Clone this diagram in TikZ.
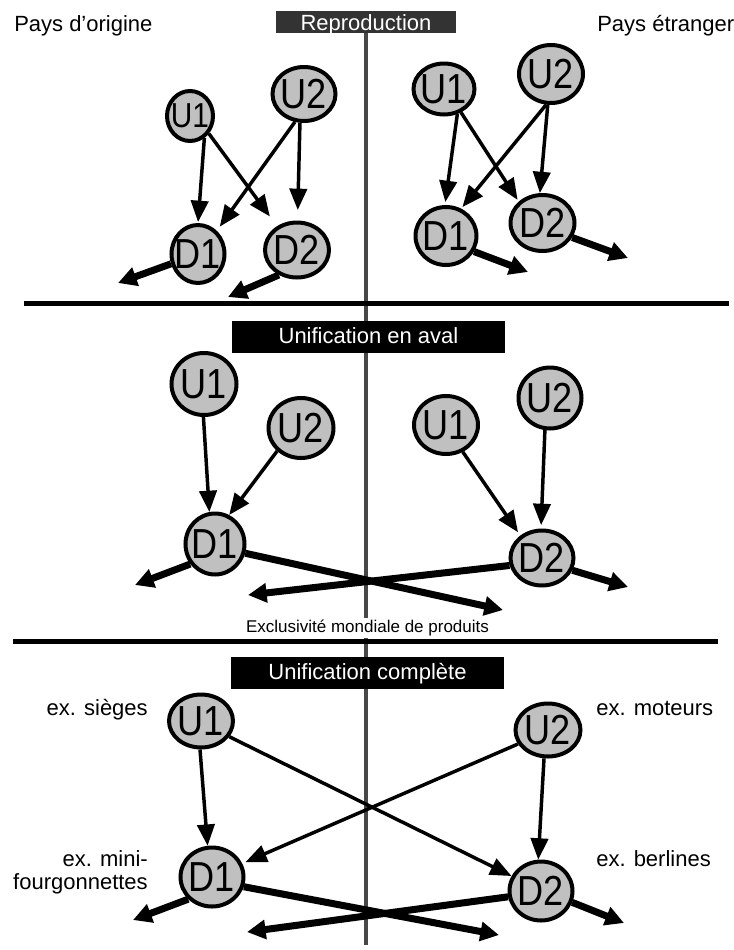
\documentclass[tikz,border=0pt]{standalone}
\usepackage{fontspec}
\setmainfont{Liberation Sans}
\newfontfamily\entfam[FakeStretch=0.86]{Liberation Sans}
\usetikzlibrary{arrows.meta,shapes.geometric}
\definecolor{nodegray}{RGB}{192,192,192}
\definecolor{vlinecol}{RGB}{72,72,72}
\definecolor{boxdark}{RGB}{51,51,51}
\newcommand\entfont{\entfam\fontsize{31.5}{31.5}\selectfont}
\newcommand\smallentfont{\entfam\fontsize{26}{26}\selectfont}
\newcommand\lblfont{\fontsize{16.5}{17.25}\selectfont}
\newcommand\lab[1]{\makebox[0pt]{#1}}
\begin{document}
\begin{tikzpicture}[x=0.75pt,y=-0.75pt,
  ent/.style={ellipse, draw=black, line width=3pt, fill=nodegray, inner sep=0pt, font=\entfont},
  conn/.style={line width=2.6pt, -{Triangle[length=16pt,width=13pt]}},
  flow/.style={line width=5.25pt, -{Triangle[length=14pt,width=14pt]}},
  txt/.style={font=\lblfont, inner sep=0pt},
  titlebox/.style={text=white, font=\lblfont, inner sep=0pt, text height=12pt, text depth=3pt},
]
\useasboundingbox (0,0) rectangle (733,950);

% vertical divider and separators
\draw[vlinecol, line width=3pt] (366,33) -- (366,945);
\draw[black, line width=3.75pt] (24,303) -- (729,303);
\draw[black, line width=3.5pt] (13,641.5) -- (718,641.5);

% titles and labels
\node[titlebox, fill=boxdark, minimum width=135pt, minimum height=16.5pt, text height=13pt, text depth=0pt] (t1) at (366,22) {Reproduction};
\node[titlebox, fill=black, minimum width=204.75pt, minimum height=24pt] (t2) at (368.5,337) {Unification en aval};
\node[titlebox, fill=black, minimum width=204.75pt, minimum height=24pt] (t3) at (367.5,673) {Unification complète};
\node[txt, anchor=base west] (paysO) at (14,31) {Pays d’origine};
\node[txt, anchor=base west] (paysE) at (597,31) {Pays étranger};
\node[font=\fontsize{12.75}{14}\selectfont, fill=white, inner sep=1.5pt, anchor=base] (excl) at (367.5,632.7) {Exclusivité mondiale de produits};
\node[txt, anchor=base east] (exs) at (148,715) {ex. sièges};
\node[txt, anchor=east, align=right] (exm) at (148,872) {ex. mini-\\fourgonnettes};
\node[txt, anchor=base west] (exmo) at (596,715) {ex. moteurs};
\node[txt, anchor=base west] (exb) at (596,866.5) {ex. berlines};

% ---- top section
\node[ent, minimum width=34.5pt, minimum height=37.5pt, font=\smallentfont] (tlU1) at (190,116) {\lab{U1}};
\node[ent, minimum width=47.25pt, minimum height=40.5pt] (tlU2) at (304,94) {\lab{U2}};
\node[ent, minimum width=39.75pt, minimum height=43.5pt] (tlD1) at (198,254) {\lab{D1}};
\node[ent, minimum width=48pt, minimum height=41.25pt] (tlD2) at (297,250) {\lab{D2}};
\node[ent, minimum width=45.75pt, minimum height=38.25pt] (trU1) at (444,89) {\lab{U1}};
\node[ent, minimum width=48pt, minimum height=43.5pt] (trU2) at (551,74) {\lab{U2}};
\node[ent, minimum width=45.75pt, minimum height=43.5pt] (trD1) at (446,236) {\lab{D1}};
\node[ent, minimum width=48pt, minimum height=42pt] (trD2) at (542.5,223) {\lab{D2}};
\coordinate (tlo1) at (118,283);
\coordinate (tlo2) at (228,297);
\coordinate (tro1) at (528,272);
\coordinate (tro2) at (628,258);

\draw[conn, shorten >=0.75pt] (tlU1.-57) -- (tlD1.90);
\draw[conn, shorten >=9pt] (tlU1.-43) -- (tlD2.130);
\draw[conn, shorten >=3.75pt] (tlU2.-108) -- (tlD1.51);
\draw[conn, shorten >=7.9pt] (tlU2.-98) -- (tlD2.89);
\draw[flow] (tlD1.200) -- (tlo1);
\draw[flow] (tlD2.-126) -- (tlo2);

\draw[conn, shorten >=2.25pt] (trU1.-62) -- (trD1.92);
\draw[conn, shorten >=1.5pt] (trU1.-54) -- (trD2.138);
\draw[conn, shorten >=1.5pt] (trU2.-99) -- (trD1.61);
\draw[conn] (trU2.-96) -- (trD2.95);
\draw[flow] (trD1.-29) -- (tro1);
\draw[flow] (trD2.-26) -- (tro2);

% ---- middle section
\node[ent, minimum width=48.75pt, minimum height=46.5pt] (mlU1) at (204,384) {\lab{U1}};
\node[ent, minimum width=48.75pt, minimum height=45pt] (mlU2) at (301,428) {\lab{U2}};
\node[ent, minimum width=44.25pt, minimum height=45.75pt] (mlD1) at (215,544) {\lab{D1}};
\node[ent, minimum width=48pt, minimum height=43.5pt] (mrU1) at (446,425) {\lab{U1}};
\node[ent, minimum width=47.25pt, minimum height=45.75pt] (mrU2) at (550,398) {\lab{U2}};
\node[ent, minimum width=47.25pt, minimum height=41.25pt] (mrD2) at (542,558) {\lab{D2}};
\coordinate (mlo1) at (135,585);
\coordinate (mlo2) at (503,610);
\coordinate (mro1) at (628,587);
\coordinate (mro2) at (248,595);

\draw[conn] (mlU1.-91) -- (mlD1.100);
\draw[conn] (mlU2.-136) -- (mlD1.64);
\draw[flow] (mlD1.-141) -- (mlo1);
\draw[flow] (mlD1.-17) -- (mlo2);
\draw[conn, shorten >=3pt] (mrU1.-58) -- (mrD2.134);
\draw[conn, shorten >=2.6pt] (mrU2.-99) -- (mrD2.92);
\draw[flow] (mrD2.-22) -- (mro1);
\draw[flow] (mrD2.193) -- (mro2);

% ---- bottom section
\node[ent, minimum width=48pt, minimum height=39.75pt] (blU1) at (201,721) {\lab{U1}};
\node[ent, minimum width=47.25pt, minimum height=44.25pt] (blD1) at (212,877) {\lab{D1}};
\node[ent, minimum width=48.75pt, minimum height=39.75pt] (brU2) at (548,730) {\lab{U2}};
\node[ent, minimum width=47.25pt, minimum height=44.25pt] (brD2) at (541,891) {\lab{D2}};
\coordinate (blo1) at (133,920);
\coordinate (blo2) at (499,935);
\coordinate (bro1) at (624,923);
\coordinate (bro2) at (247,932);

\draw[conn] (blU1.-92) -- (blD1.98);
\draw[conn] (blU1.-29) -- (brD2.153);
\draw[conn, shorten >=2.6pt] (brU2.205) -- (blD1.24);
\draw[conn] (brU2.-98) -- (brD2.95);
\draw[flow] (blD1.-137) -- (blo1);
\draw[flow] (blD1.-17) -- (blo2);
\draw[flow] (brD2.190) -- (bro2);
\draw[flow] (brD2.-20) -- (bro1);
\end{tikzpicture}
\end{document}
